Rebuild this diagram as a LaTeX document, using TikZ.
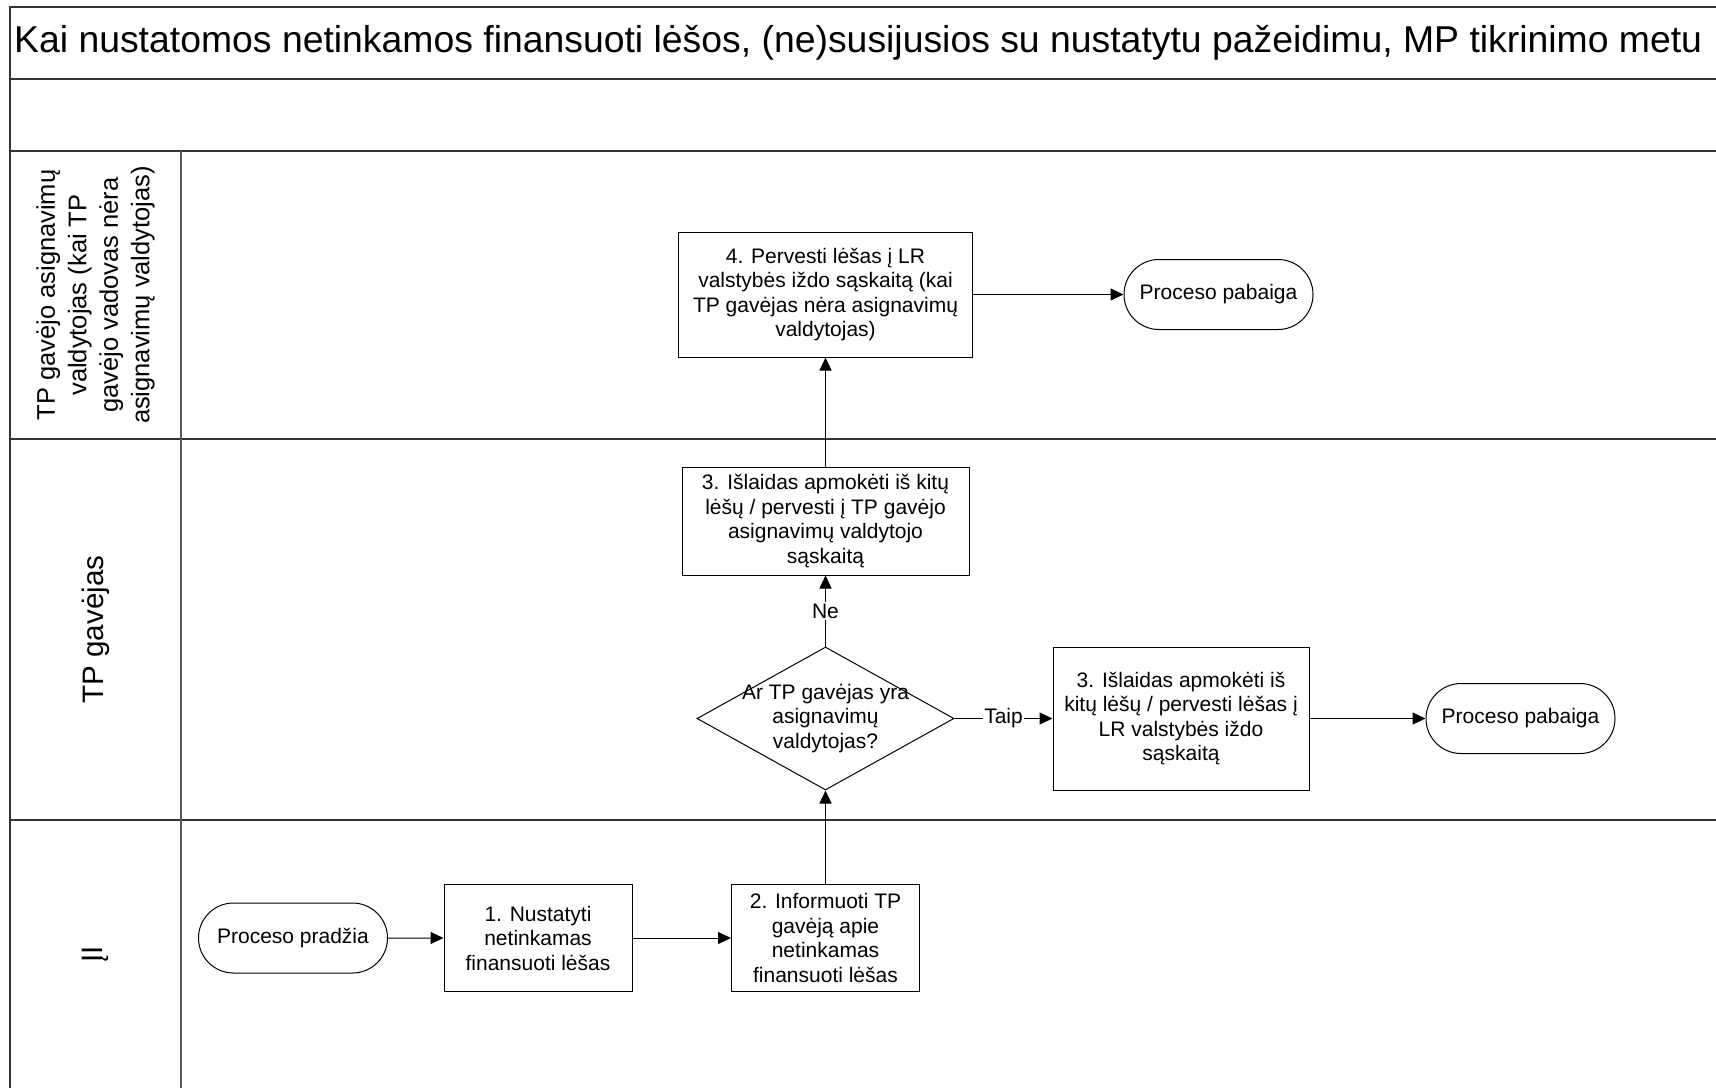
\documentclass[tikz,border=0pt]{standalone}
\usepackage{fontspec}
\usepackage{graphicx}
\setmainfont{Liberation Sans}
\usetikzlibrary{arrows.meta,shapes.geometric,shapes.misc}

\newcommand{\bodyfont}{\fontsize{21}{24.5}\selectfont}
\newcommand{\lanefont}{\fontsize{29.6}{34}\selectfont}
\newcommand{\lanesmallfont}{\fontsize{25.5}{31.5}\selectfont}

\begin{document}
\begin{tikzpicture}[x=1pt,y=-1pt,
  frame/.style={draw=black!80,line width=2pt},
  divider/.style={draw=black!65,line width=1.5pt},
  proc/.style={draw,line width=1pt,rectangle,align=center,inner sep=0pt,font=\bodyfont},
  term/.style={draw,line width=1pt,rounded rectangle,minimum width=189pt,minimum height=70pt,inner sep=0pt,font=\bodyfont},
  decision/.style={draw,line width=1pt,diamond,minimum width=257pt,minimum height=143pt,inner sep=0pt},
  arr/.style={line width=1pt,-{Triangle[length=13pt,width=12pt]}},
  lbl/.style={fill=white,inner sep=1.5pt,font=\bodyfont},
  lanelabel/.style={rotate=90,align=center,inner sep=0pt}]
\useasboundingbox (0,0) rectangle (1716,1088);

% pool frame and swimlanes
\draw[frame] (1716,7) -- (10,7) -- (10,1088);
\draw[frame] (10,79) -- (1716,79);
\draw[frame] (10,151) -- (1716,151);
\draw[frame] (10,439) -- (1716,439);
\draw[frame] (10,820) -- (1716,820);
\draw[divider] (181,151) -- (181,1088);

% title
\node[anchor=west,inner sep=0pt] (title) at (14,43)
  {\resizebox{1688pt}{!}{\lanefont Kai nustatomos netinkamos finansuoti lėšos, (ne)susijusios su nustatytu pažeidimu, MP tikrinimo metu}};

% lane labels
\node[lanelabel,font=\lanesmallfont] (lane1) at (95.5,295)
  {TP gavėjo asignavimų\\valdytojas (kai TP\\gavėjo vadovas nėra\\asignavimų valdytojas)};
\node[lanelabel,font=\lanefont] (lane2) at (95.5,629.5) {TP gavėjas};
\node[lanelabel,font=\lanefont] (lane3) at (95.5,954) {ĮI};

% process steps
\node[term] (start) at (293,938) {Proceso pradžia};
\node[proc,minimum width=188pt,minimum height=107pt] (s1) at (538,938)
  {1. Nustatyti\\netinkamas\\finansuoti lėšas};
\node[proc,minimum width=188pt,minimum height=107pt] (s2) at (825.5,938)
  {2. Informuoti TP\\gavėją apie\\netinkamas\\finansuoti lėšas};
\node[decision] (q) at (825.5,718.5) {};
\node[align=center,inner sep=0pt,font=\bodyfont] (qtext) at (q.center)
  {Ar TP gavėjas yra\\asignavimų\\valdytojas?};
\node[proc,minimum width=256pt,minimum height=143pt] (s3b) at (1181,718.5)
  {3. Išlaidas apmokėti iš\\kitų lėšų / pervesti lėšas į\\LR valstybės iždo\\sąskaitą};
\node[term] (end2) at (1520.5,718.5) {Proceso pabaiga};
\node[proc,minimum width=287pt,minimum height=108pt] (s3a) at (825.5,521)
  {3. Išlaidas apmokėti iš kitų\\lėšų / pervesti į TP gavėjo\\asignavimų valdytojo\\sąskaitą};
\node[proc,minimum width=294.5pt,minimum height=125pt] (s4) at (825.5,294.5)
  {4. Pervesti lėšas į LR\\valstybės iždo sąskaitą (kai\\TP gavėjas nėra asignavimų\\valdytojas)};
\node[term] (end1) at (1218.5,294.5) {Proceso pabaiga};

% connectors
\draw[arr] (start) -- (s1);
\draw[arr] (s1) -- (s2);
\draw[arr] (s2) -- (q);
\draw[arr] (q) -- node[lbl] (taip) {Taip} (s3b);
\draw[arr] (s3b) -- (end2);
\draw[arr] (q) -- node[lbl] (ne) {Ne} (s3a);
\draw[arr] (s3a) -- (s4);
\draw[arr] (s4) -- (end1);
\end{tikzpicture}
\end{document}
